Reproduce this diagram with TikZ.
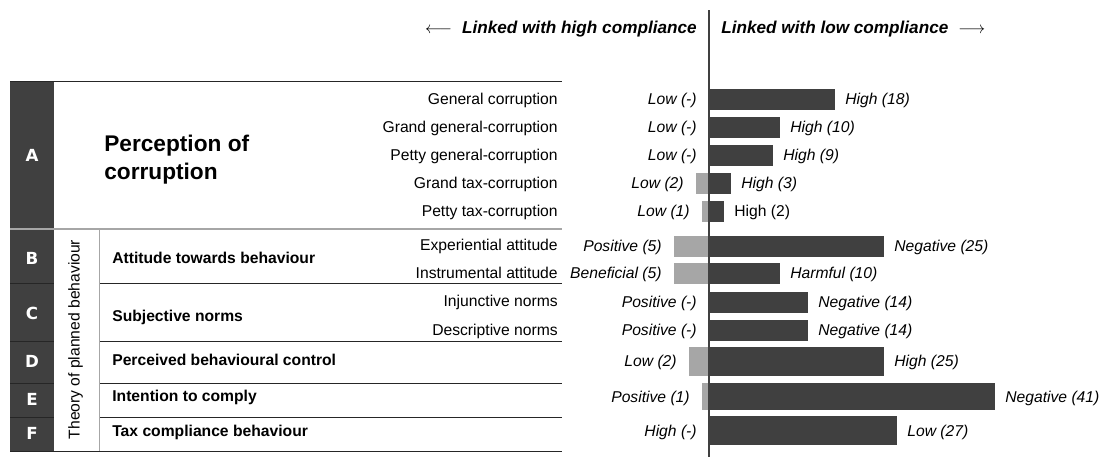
\documentclass[tikz,border=0pt]{standalone}
\usepackage{fontspec}
\setmainfont{Liberation Sans}
\newfontfamily\lettfont{DejaVu Sans}
\definecolor{bardark}{HTML}{404040}
\definecolor{barlight}{HTML}{A6A6A6}

\begin{document}
\begin{tikzpicture}[x = 0.6pt, y = -0.6pt,
lbl/.style = {inner sep = 0 pt, yshift = -0.9pt, font = \fontsize{9.4}{11}\selectfont},
val/.style = {inner sep = 0 pt, yshift = -0.9pt, font = \fontsize{9.4}{11}\selectfont\itshape},
ttl/.style = {inner sep = 0 pt, yshift = -0.9pt, anchor = mid west, font = \fontsize{9.4}{11}\selectfont\bfseries},
let/.style = {text = white, inner sep = 0 pt, font = \lettfont\bfseries\fontsize{10}{11}\selectfont},
hdr/.style = {inner sep = 0 pt, yshift = -0.9pt, font = \fontsize{10.3}{12}\selectfont\bfseries\itshape},
sep/.style = {draw = black!85, line width = 0.6pt}
]
\useasboundingbox (0,0) rectangle (1100,457);
% letter column
\fill[bardark] (10,81) rectangle (54,451);
\foreach \n/\y in {A/155, B/258, C/313, D/361, E/399, F/433}{\node[let] (\n) at (32,\y) {\n};}
% table rules
\draw[sep] (10,81) -- (562,81);
\draw[gray!70, line width = 1.2pt] (10,229) -- (562,229);
\foreach \y in {283,341,383,417}{\draw[sep] (10,\y) -- (54,\y) (99,\y) -- (562,\y);}
\draw[sep] (10,451) -- (562,451);
\draw[gray!70, line width = 0.6pt] (99,229) -- (99,451);
\node[lbl, rotate = 90, yshift = 0.9pt] (tpb) at (77,338) {Theory of planned behaviour};
% row titles
\node[ttl, anchor = west, align = left, font = \fontsize{13.6}{16.8}\selectfont\bfseries] (tA) at (104,158) {Perception of\\corruption};
\foreach \y/\t [count = \i] in {258/Attitude towards behaviour, 316/Subjective norms, 360/Perceived behavioural control, 396/Intention to comply, 431/Tax compliance behaviour}{\node[ttl] (t\i) at (112,\y) {\t};}
\foreach \y/\t [count = \i] in {99/General corruption, 127/Grand general-corruption, 155/Petty general-corruption, 183/Grand tax-corruption, 211/Petty tax-corruption, 245/Experiential attitude, 273/Instrumental attitude, 301/Injunctive norms, 330/Descriptive norms}{\node[lbl, anchor = mid east] (s\i) at (558,\y) {\t};}
% bars
\foreach \y/\h/\l/\r/\lt/\rt [count = \i] in {99/21/0/126/Low (-)/High (18), 127/21/0/71/Low (-)/High (10), 155/21/0/64/Low (-)/High (9), 183/21/13/22/Low (2)/High (3), 211/21/7/15/Low (1)/{\upshape High (2)}, 246/21/35/175/Positive (5)/Negative (25), 273/21/35/71/Beneficial (5)/Harmful (10), 302/21/0/99/Positive (-)/Negative (14), 330/21/0/99/Positive (-)/Negative (14), 361/29/20/175/Low (2)/High (25), 396.5/27/7/286/Positive (1)/Negative (41), 430.5/29/0/188/High (-)/Low (27)}{
\fill[barlight] (709-\l,\y-\h/2) rectangle (709,\y+\h/2);
\fill[bardark] (709,\y-\h/2) rectangle (709+\r,\y+\h/2);
\node[val, anchor = mid east] (lo\i) at (709-\l-12,\y) {\lt};
\node[val, anchor = mid west] (hi\i) at (709+\r+10,\y) {\rt};}
% axis and headings
\coordinate (atop) at (709,10);
\coordinate (abot) at (709,457);
\draw[black!75, line width = 0.7pt] (atop) -- (abot);
\node[hdr, anchor = mid east] (hiC) at (697,28) {$\longleftarrow$\hspace{6pt}Linked with high compliance};
\node[hdr, anchor = mid west] (loC) at (721,28) {Linked with low compliance\hspace{6pt}$\longrightarrow$};
\end{tikzpicture}
\end{document}
